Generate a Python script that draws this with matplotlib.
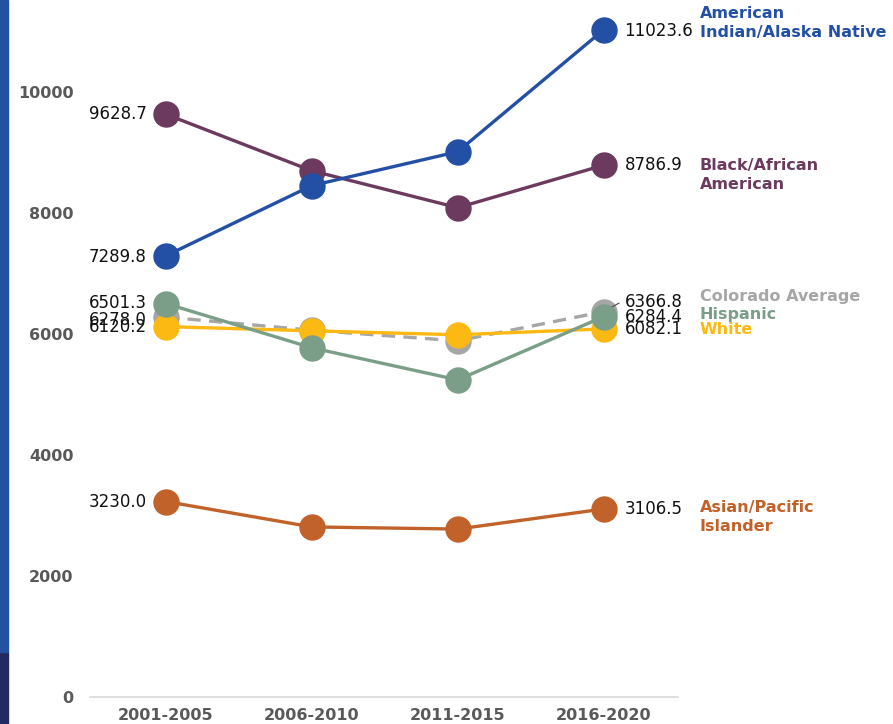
import matplotlib.pyplot as plt
from matplotlib.patches import Rectangle

# periods on the x axis
periods = ["2001-2005", "2006-2010", "2011-2015", "2016-2020"]

# rates per group (middle values)
aian = [7289.8, 8450, 9010, 11023.6]
black = [9628.7, 8695, 8085, 8786.9]
colorado = [6278.0, 6060, 5885, 6366.8]
hispanic = [6501.3, 5770, 5240, 6284.4]
white = [6120.2, 6050, 5985, 6082.1]
asian = [3230.0, 2810, 2775, 3106.5]

yticks = [0, 2000, 4000, 6000, 8000, 10000]

fig = plt.figure(figsize=(8.93, 7.24), dpi=100)
ax = fig.add_axes([90 / 893, 27 / 724, 588 / 893, 696 / 724])

# left decorative strip
fig.patches.append(Rectangle((0, 0), 8 / 893, 72 / 724, transform=fig.transFigure,
                             color="#222a60", zorder=0))
fig.patches.append(Rectangle((0, 72 / 724), 8 / 893, 652 / 724, transform=fig.transFigure,
                             color="#2352a0", zorder=0))

x = list(range(len(periods)))
ms = 18
lw = 2.4

ax.plot(x, colorado, color="#a6a6a6", lw=lw, ls=(0, (4, 2.5)), marker="o", ms=ms, zorder=2)
ax.plot(x, white, color="#fdb913", lw=lw, marker="o", ms=ms, zorder=3)
ax.plot(x, hispanic, color="#7a9e87", lw=lw, marker="o", ms=ms, zorder=4)
ax.plot(x, asian, color="#c0622a", lw=lw, marker="o", ms=ms, zorder=3)
ax.plot(x, black, color="#6b3a5e", lw=lw, marker="o", ms=ms, zorder=3)
ax.plot(x, aian, color="#2350a5", lw=lw, marker="o", ms=ms, zorder=4)

fs = 12


def lab(xi, yi, dy, side):
    # value label left or right of a marker
    if side == "l":
        ax.annotate(f"{yi:.1f}", (xi, yi), xytext=(-19, dy), textcoords="offset pixels",
                    ha="right", va="center", fontsize=fs, color="#111111")
    else:
        ax.annotate(f"{yi:.1f}", (xi, yi), xytext=(21, dy), textcoords="offset pixels",
                    ha="left", va="center", fontsize=fs, color="#111111")


lab(0, black[0], 0, "l")
lab(0, aian[0], -1, "l")
lab(0, hispanic[0], 1, "l")
lab(0, colorado[0], -3, "l")
lab(0, white[0], 0, "l")
lab(0, asian[0], 0, "l")

lab(3, aian[3], -1, "r")
lab(3, black[3], 0, "r")
lab(3, colorado[3], 10, "r")
lab(3, hispanic[3], 0, "r")
lab(3, white[3], 0, "r")
lab(3, asian[3], 0, "r")

# small leader line from the Colorado label to its marker
ax.annotate("", (3, colorado[3]), xytext=(18, 10), textcoords="offset pixels",
            arrowprops=dict(arrowstyle="-", color="#444444", lw=0.8))

# series names on the right
names = [
    ("American\nIndian/Alaska Native", aian[3], 7, "#2350a5"),
    ("Black/African\nAmerican", black[3], -10, "#6b3a5e"),
    ("Colorado Average", colorado[3], 15, "#a6a6a6"),
    ("Hispanic", hispanic[3], 2, "#7a9e87"),
    ("White", white[3], -1, "#fdb913"),
    ("Asian/Pacific\nIslander", asian[3], -8, "#c0622a"),
]
for txt, yv, dy, col in names:
    ax.annotate(txt, (3, yv), xytext=(96, dy), textcoords="offset pixels",
                ha="left", va="center", fontsize=11.5, color=col, fontweight="bold",
                linespacing=1.3, annotation_clip=False)

ax.set_xlim(-0.52, 3.51)
ax.set_ylim(0, 11500)
ax.set_xticks(x)
ax.set_xticklabels(periods, fontsize=11.5, color="#595959", fontweight="bold")
ax.set_yticks(yticks)
ax.set_yticklabels([str(v) for v in yticks], fontsize=11.5, color="#595959", fontweight="bold")
ax.tick_params(length=0, pad=12)
ax.tick_params(axis="x", pad=8)
for s in ["top", "right", "left"]:
    ax.spines[s].set_visible(False)
ax.spines["bottom"].set_color("#d9d9d9")
ax.spines["bottom"].set_linewidth(1.2)

fig.savefig("out.png", dpi=100)
